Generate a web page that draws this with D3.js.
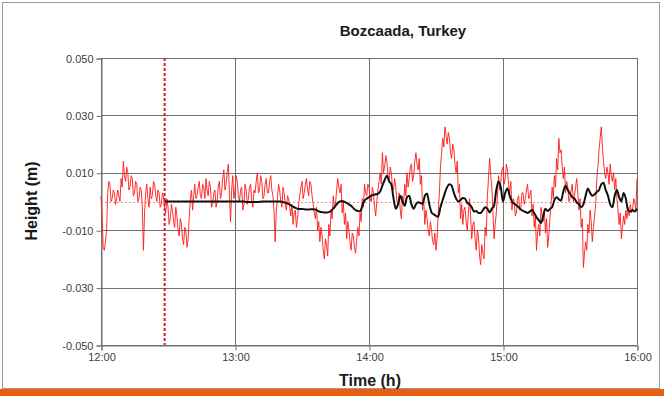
<!DOCTYPE html>
<html>
<head>
<meta charset="utf-8">
<script src="https://cdn.jsdelivr.net/npm/d3@7"></script>
<style>
  html, body { margin: 0; padding: 0; background: #fff; }
  svg { display: block; }
</style>
</head>
<body>
<svg id="chart" width="664" height="396"></svg>
<script>
// ---------------- DATA ----------------
const title = "Bozcaada, Turkey";
const xLabel = "Time (h)";
const yLabel = "Height (m)";
const xTickLabels = ["12:00", "13:00", "14:00", "15:00", "16:00"];   // one per hour from 12:00
const yTickValues = [0.050, 0.030, 0.010, -0.010, -0.030, -0.050];
const markerMinute = 28.5;          // red dashed vertical marker (minutes after 12:00)

// Observed sea level (mm), one value every 30 s from 12:00 to 16:00
const observedStepMin = 0.5;
const observedMM = [
  2,-6, -16,-17, -14,-10, 3,7, 6,0, 1,4, 3,-1, 1,4, 2,0, 8,5,
  14,9, 7,12, 10,4, 5,9, 8,2, 3,7, 6,0, 1,5, 4,-2, -17,-4,
  3,6, 1,-2, 5,1, 2,7, 6,2, 0,4, 3,-2, -1,3, 2,-3, -4,1,
  -2,-8, -6,-1, -3,-7, -9,-2, -5,-10, -12,-6, -8,-13, -15,-9, -10,-16, -13,-6,
  1,4, -3,2, 6,1, 2,5, 7,2, 1,6, 5,1, 8,4, 2,7, 5,-2,
  -1,3, 4,-2, 0,5, 7,1, 3,8, 11,4, 6,10, 13,3, -7,4, 9,1,
  4,9, 7,2, 0,4, 5,-3, -1,6, 4,-1, 1,5, 6,0, -2,4, 3,7,
  10,3, 4,9, 7,1, 2,6, 8,3, 3,7, 9,4, 2,-4, -14,-3, 1,6,
  4,0, -2,5, 3,-1, -3,2, 1,-2, -5,-1, -8,-4, -3,-9, -6,-1, 2,5,
  7,1, 3,6, 8,4, 2,7, 6,2, -1,-4, -6,-2, -10,-7, -14,-9, -12,-17,
  -20,-13, -15,-19, -8,-12, -3,-6, 2,-2, -1,4, 8,5, 3,6, -4,0, -8,-4,
  -13,-7, -10,-14, -17,-11, -12,-16, -18,-13, -9,-12, -4,-7, 1,-2, 6,3, 2,6,
  5,1, 0,5, 3,-2, -5,0, 4,7, 10,6, 17,10, 12,16, 14,9, 7,12,
  10,5, 4,8, 5,0, -1,3, -3,-6, 2,-1, 6,2, 10,5, 8,12, 13,7,
  9,14, 17,13, 11,15, 6,9, -3,1, -8,-3, -6,-10, -12,-7, -10,-14, -15,-11,
  -17,-13, -4,3, 12,17, 22,19, 26,23, 20,24, 22,17, 15,20, 18,13, 10,14,
  3,6, -6,-1, -8,-3, -2,-7, -10,-4, 1,-5, -13,-8, -7,-13, -17,-10, -12,-19,
  -22,-15, -18,-20, -9,-12, 2,8, 15,9, 5,-4, -13,-8, -4,2, 9,4, 7,11,
  12,6, 8,13, 11,6, 3,7, -3,1, 0,-5, -4,1, 2,-3, -2,3, 3,-1,
  1,4, 6,1, 2,4, -5,-1, -9,-5, -17,-11, -8,-12, -2,-5, -7,-3, -11,-6,
  -16,-12, -6,-1, 5,1, 9,5, 15,11, 22,17, 18,12, 8,12, 3,7, 5,0,
  1,4, 6,0, 2,5, 8,3, -3,1, -9,-6, -23,-18, -14,-17, -8,-11, -3,-7,
  -14,-9, -5,-1, 8,12, 18,22, 26,19, 14,10, 8,12, 10,6, 13,9, 7,10,
  4,8, 1,-3, -8,-4, -13,-9, -5,-8, -3,-6, -2,-5, -1,-4, -3,1, 0,-3,
  8
];

// Model (mm): first value at the marker, then one value per minute from 12:29 to 16:00
const modelStartMinute = 28.5;
const modelMM = [
  0,
  0,
  0,0,0,0,0,0,0,0,0,0,
  0,0,0,0,0,0,0,0,0,0,
  0,0,0,0,0,0,0,0,0,0,
  0,0,0,0,0,-0.2,-0.2,-0.2,-0.2,-0.2,
  -0.2,-0.1,0,0,0,0,0,0,0,0,
  0,-0.1,-0.3,-0.5,-0.8,-1.3,-1.8,-2.2,-2.5,-2.6,
  -2.6,-2.7,-2.8,-2.8,-2.7,-2.7,-2.8,-3.2,-3.6,-3.7,
  -3.8,-3.8,-3.7,-3.2,-2.5,-1.5,-0.5,0,0.2,-0.1,
  -0.5,-1,-1.5,-2.3,-3,-3.3,-3.5,-1.5,0.3,1,
  1.5,2,2.3,2.5,2.7,3.5,5.5,7.5,9,7,
  6,1,-2.5,-1,2,0,-1.5,1.5,2,-1,
  -2.5,-1,-0.3,-0.5,-0.8,2,2.8,-1,-3.8,-4.5,
  -5,-5.3,-2,0.5,3,5,6,5.5,3,1,
  0,0.5,1.2,1,-0.5,-1,-2,-3.5,-3.3,-4,
  -4,-3,-2,-2.5,-3.8,-2.5,-1.5,4,7,5,
  0,3,4.5,2,0,-0.7,-1.3,-2,-2.8,-3.3,
  -3.6,-4,-3.5,-3,-4,-5.5,-6.5,-7.5,-5,-2.5,
  -3.3,-2.6,-2,0.5,1.5,0.8,0.3,3.5,5.5,4,
  2.7,1.5,1,-0.3,-1,-2,-1,2,4.5,3,
  2,2.5,3.3,4,6,6.5,4,2,-1,-2,
  2,4,1.5,0,3,1,-3,-3.5,-3,-3.5,
  -2.5
];

// ---------------- CHART ----------------
const svg = d3.select("#chart");
const W = 664, H = 396;
const plot = { left: 101, right: 637, top: 58, bottom: 345 };
const font = "'Liberation Sans', Arial, sans-serif";

// Frame and orange footer
svg.append("rect").attr("x", 2.5).attr("y", 2.5).attr("width", 657).attr("height", 386)
  .attr("fill", "#fff").attr("stroke", "#9a9a9a").attr("stroke-width", 1);
svg.append("rect").attr("x", 0).attr("y", 389).attr("width", W).attr("height", H - 389)
  .attr("fill", "#e8600f");

const x = d3.scaleLinear().domain([0, 240]).range([plot.left, plot.right]);
const y = d3.scaleLinear().domain([-0.05, 0.05]).range([plot.bottom, plot.top]);

const gridColor = "#707070";

// Horizontal grid
svg.append("g").selectAll("line").data(yTickValues).join("line")
  .attr("x1", plot.left).attr("x2", plot.right)
  .attr("y1", d => Math.round(y(d)) + 0.5).attr("y2", d => Math.round(y(d)) + 0.5)
  .attr("stroke", gridColor).attr("stroke-width", 1);

// Vertical grid
const xTickMinutes = xTickLabels.map((_, i) => i * 60);
svg.append("g").selectAll("line").data(xTickMinutes).join("line")
  .attr("x1", d => Math.round(x(d)) + 0.5).attr("x2", d => Math.round(x(d)) + 0.5)
  .attr("y1", plot.top).attr("y2", plot.bottom)
  .attr("stroke", gridColor).attr("stroke-width", 1);

// Zero reference (pink dotted)
svg.append("line")
  .attr("x1", plot.left).attr("x2", plot.right)
  .attr("y1", Math.round(y(0)) + 0.5).attr("y2", Math.round(y(0)) + 0.5)
  .attr("stroke", "#f09090").attr("stroke-width", 1).attr("stroke-dasharray", "2,2");

// Axes
const yAxis = d3.axisLeft(y).tickValues(yTickValues).tickFormat(d => d.toFixed(3)).tickSizeOuter(0).tickSize(5).tickPadding(3);
const gy = svg.append("g").attr("transform", `translate(${plot.left + 0.5},0.5)`).call(yAxis);
gy.select(".domain").attr("stroke", gridColor);
gy.selectAll(".tick line").attr("stroke", gridColor);
gy.selectAll(".tick text").attr("fill", "#404040").style("font-family", font).style("font-size", "11px");

const xAxis = d3.axisBottom(x).tickValues(xTickMinutes).tickFormat((d, i) => xTickLabels[i]).tickSizeOuter(0).tickSize(5).tickPadding(3);
const gx = svg.append("g").attr("transform", `translate(0.5,${plot.bottom + 0.5})`).call(xAxis);
gx.select(".domain").attr("stroke", gridColor);
gx.selectAll(".tick line").attr("stroke", gridColor);
gx.selectAll(".tick text").attr("fill", "#404040").style("font-family", font).style("font-size", "11px");

// Observed line
const obs = observedMM.map((v, i) => ({ t: i * observedStepMin, h: v / 1000 }));
svg.append("path").datum(obs)
  .attr("fill", "none").attr("stroke", "#ff1a1a").attr("stroke-width", 1).attr("stroke-opacity", 0.9)
  .attr("stroke-linejoin", "round")
  .attr("d", d3.line().x(d => x(d.t)).y(d => y(d.h)));

// Marker dashed line
svg.append("line")
  .attr("x1", x(markerMinute)).attr("x2", x(markerMinute))
  .attr("y1", plot.top).attr("y2", plot.bottom)
  .attr("stroke", "#d42020").attr("stroke-width", 2).attr("stroke-dasharray", "3,2");

// Model line
const mod = modelMM.map((v, i) => ({ t: i === 0 ? modelStartMinute : Math.ceil(modelStartMinute) + i - 1, h: v / 1000 }));
svg.append("path").datum(mod)
  .attr("fill", "none").attr("stroke", "#111").attr("stroke-width", 2)
  .attr("stroke-linejoin", "round")
  .attr("d", d3.line().curve(d3.curveMonotoneX).x(d => x(d.t)).y(d => y(d.h)));

// Titles
svg.append("text").attr("x", 403).attr("y", 36).attr("text-anchor", "middle")
  .style("font-family", font).style("font-size", "15px").style("font-weight", "bold").attr("fill", "#1a1a1a")
  .text(title);
svg.append("text").attr("x", 370).attr("y", 386).attr("text-anchor", "middle")
  .style("font-family", font).style("font-size", "16px").style("font-weight", "bold").attr("fill", "#1a1a1a")
  .text(xLabel);
svg.append("text").attr("transform", "translate(37,201) rotate(-90)").attr("text-anchor", "middle")
  .style("font-family", font).style("font-size", "16px").style("font-weight", "bold").attr("fill", "#1a1a1a")
  .text(yLabel);
</script>
</body>
</html>
